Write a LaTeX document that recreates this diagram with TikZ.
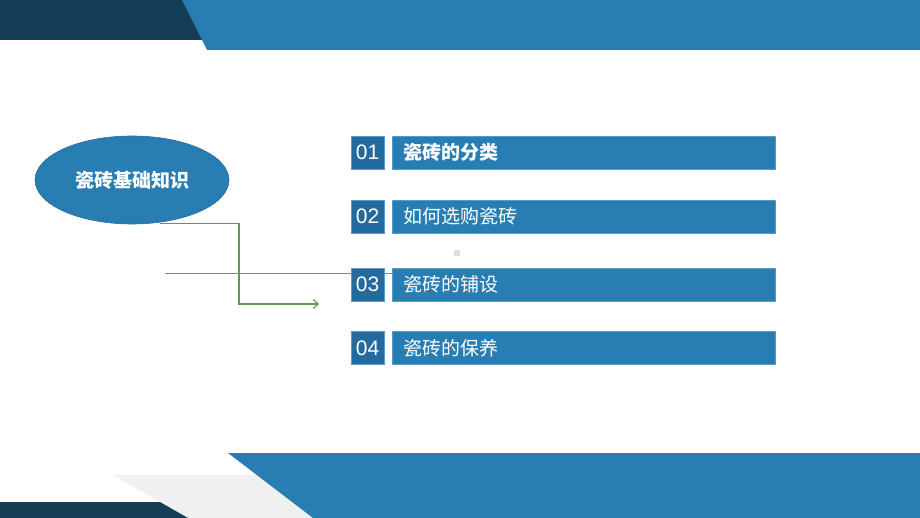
\documentclass[tikz,border=0pt]{standalone}
\usepackage{fontspec}
\setmainfont{Liberation Sans}
\newfontfamily\cjk{Noto Sans CJK SC}
\usetikzlibrary{shapes.geometric,arrows.meta}
\definecolor{navy}{HTML}{143D56}
\definecolor{mainblue}{HTML}{287DB2}
\definecolor{numblue}{HTML}{236A9E}
\definecolor{edgeblue}{HTML}{5A9BC8}
\definecolor{lightgray}{HTML}{F0F0F0}
\definecolor{linkgreen}{HTML}{5E9A4E}
\definecolor{thinblue}{HTML}{5B8FB9}
\tikzset{
  numbox/.style={fill=numblue, draw=edgeblue, line width=0.6pt, minimum width=33pt, minimum height=33pt, inner sep=0pt, text=white, font=\fontsize{21}{21}\selectfont},
  labbox/.style={fill=mainblue, draw=edgeblue, line width=0.6pt, minimum width=383pt, minimum height=33pt, inner sep=0pt, text=white, anchor=west, font=\cjk\fontsize{19}{19}\selectfont, text width=361pt, align=left},
}
\begin{document}
\begin{tikzpicture}[x=1pt,y=-1pt]
\useasboundingbox (0,0) rectangle (920,518);
\fill[white] (0,0) rectangle (920,518);
% top bands
\fill[navy] (0,0) -- (190,0) -- (203,40) -- (0,40) -- cycle;
\fill[mainblue] (182,0) -- (920,0) -- (920,50) -- (207,50) -- cycle;
% bottom bands
\fill[lightgray] (113,475) -- (300,475) -- (313,518) -- (188,518) -- cycle;
\fill[navy] (0,502) -- (160,502) -- (188,518) -- (0,518) -- cycle;
\fill[mainblue] (228,453) -- (920,453) -- (920,518) -- (313,518) -- cycle;
% small square
\fill[black!13] (454,250) rectangle (460,256);
% ellipse
\node[ellipse, fill=mainblue, draw=numblue, line width=0.6pt, minimum width=194pt, minimum height=88pt, inner sep=0pt, text=white, font=\cjk\bfseries\fontsize{19}{19}\selectfont] (main) at (132,180) {瓷砖基础知识};
% thin line
\coordinate (ls) at (165,273);
\coordinate (le) at (393,273);
\draw[thinblue, line width=0.8pt] (ls) -- (le);
% items
\node[numbox] (n1) at (367.5,152.5) {01};
\node[labbox] (l1) at (392,152.5) {\textbf{瓷砖的分类}};
\node[numbox] (n2) at (367.5,216.5) {02};
\node[labbox] (l2) at (392,216.5) {如何选购瓷砖};
\node[numbox] (n3) at (367.5,284.5) {03};
\node[labbox] (l3) at (392,284.5) {瓷砖的铺设};
\node[numbox] (n4) at (367.5,348) {04};
\node[labbox] (l4) at (392,348) {瓷砖的保养};
% green connector
\coordinate (gs) at (160,223.5);
\coordinate (ge) at (319,304);
\draw[linkgreen, line width=1.1pt, -{Straight Barb[length=5pt,width=9pt]}] (gs) -- (239,223.5) |- (ge);
\end{tikzpicture}
\end{document}
